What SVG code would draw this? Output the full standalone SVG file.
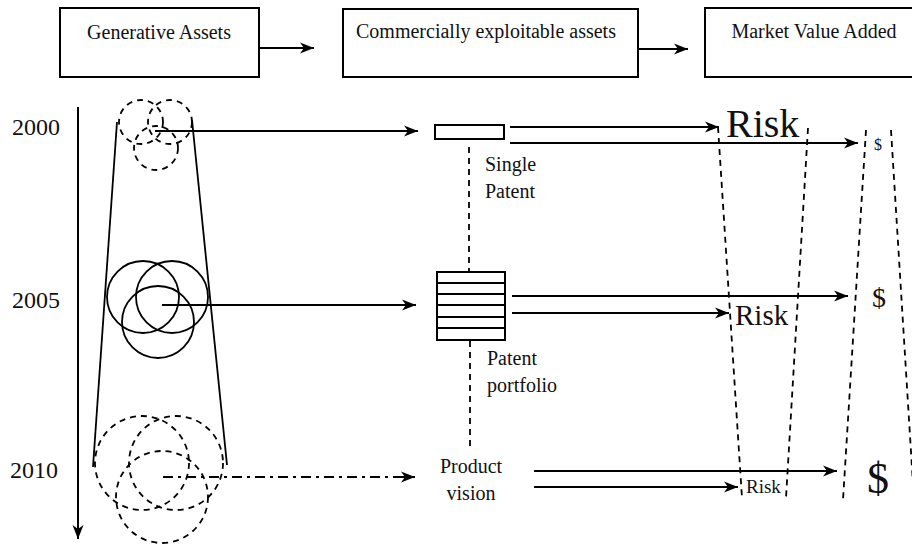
<svg xmlns="http://www.w3.org/2000/svg" width="912" height="544" viewBox="0 0 912 544" font-family="Liberation Serif, DejaVu Serif, serif">
  <defs>
    <marker id="head" markerUnits="userSpaceOnUse" markerWidth="16" markerHeight="12" refX="14" refY="6" orient="auto">
      <path d="M0,0.5 L14,6 L0,11.5 L4,6 Z" fill="#000"/>
    </marker>
    <style>
      text { fill: #111; }
      .box { fill: #fff; stroke: #000; stroke-width: 2; }
      .ln { fill: none; stroke: #000; stroke-width: 2; }
      .thin { fill: none; stroke: #000; stroke-width: 1.8; }
      .dash { fill: none; stroke: #000; stroke-width: 1.8; stroke-dasharray: 6 5; }
      .dashdot { fill: none; stroke: #000; stroke-width: 1.8; stroke-dasharray: 10 5 3 5; }
      .arrow { marker-end: url(#head); }
      .hdr { font-size: 20px; text-anchor: middle; }
      .year { font-size: 24px; }
      .lbl { font-size: 20px; }
    </style>
  </defs>

  <!-- header stages -->
  <g id="generative-assets">
    <rect class="box" x="60" y="8" width="199" height="69"/>
    <text class="hdr" x="159" y="39">Generative Assets</text>
  </g>
  <g id="commercial-assets">
    <rect class="box" x="343" y="9" width="295" height="68"/>
    <text class="hdr" x="486" y="38">Commercially exploitable assets</text>
  </g>
  <g id="market-value">
    <rect class="box" x="705" y="8" width="215" height="69"/>
    <text class="hdr" x="814" y="38">Market Value Added</text>
  </g>

  <!-- time axis and years -->
  <g id="timeline">
    <line class="ln arrow" x1="78" y1="107" x2="78" y2="539"/>
    <text class="year" x="12" y="135">2000</text>
    <text class="year" x="12" y="308">2005</text>
    <text class="year" x="10" y="478">2010</text>
  </g>

  <!-- asset clusters within the widening funnel -->
  <g id="asset-funnel">
    <line class="thin" x1="117" y1="122" x2="93" y2="467"/>
    <line class="thin" x1="192" y1="120" x2="227" y2="465"/>
  </g>
  <g id="assets-2000">
    <circle class="dash" cx="141" cy="122" r="22"/>
    <circle class="dash" cx="170" cy="122" r="22"/>
    <circle class="dash" cx="156" cy="148" r="22"/>
  </g>
  <g id="assets-2005">
    <circle class="thin" cx="143" cy="297" r="36"/>
    <circle class="thin" cx="172" cy="297" r="36"/>
    <circle class="thin" cx="158" cy="322" r="36"/>
  </g>
  <g id="assets-2010">
    <circle class="dash" cx="142" cy="463" r="47"/>
    <circle class="dash" cx="176" cy="463" r="47"/>
    <circle class="dash" cx="162" cy="497" r="46"/>
  </g>

  <!-- exploitable assets -->
  <g id="single-patent">
    <rect class="box" x="435" y="125" width="69" height="14"/>
    <text class="lbl" x="485" y="171">Single</text>
    <text class="lbl" x="485" y="198">Patent</text>
  </g>
  <g id="patent-portfolio">
    <rect class="box" x="437" y="272" width="68" height="68"/>
    <path class="ln" d="M437,283 H505 M437,294 H505 M437,305 H505 M437,317 H505 M437,328 H505"/>
    <text class="lbl" x="487" y="365">Patent</text>
    <text class="lbl" x="487" y="392">portfolio</text>
  </g>
  <g id="product-vision">
    <text class="lbl" x="471" y="473" text-anchor="middle">Product</text>
    <text class="lbl" x="471" y="500" text-anchor="middle">vision</text>
  </g>

  <!-- risk funnel -->
  <g id="risk">
    <line class="dash" x1="718" y1="127" x2="742" y2="498"/>
    <line class="dash" x1="808" y1="128" x2="786" y2="498"/>
    <text x="726" y="137" font-size="40">Risk</text>
    <text x="735" y="325" font-size="29">Risk</text>
    <text x="746" y="493" font-size="19">Risk</text>
  </g>

  <!-- value funnel -->
  <g id="value">
    <line class="dash" x1="866" y1="130" x2="843" y2="500"/>
    <line class="dash" x1="891" y1="130" x2="914" y2="500"/>
    <text x="874" y="150" font-size="16">$</text>
    <text x="872" y="307" font-size="28">$</text>
    <text x="867" y="493" font-size="44">$</text>
  </g>

  <!-- connectors -->
  <g id="connectors">
    <line class="ln arrow" x1="259" y1="48" x2="314" y2="48"/>
    <line class="ln arrow" x1="638" y1="49" x2="688" y2="49"/>

    <line class="ln arrow" x1="155" y1="131" x2="418" y2="131"/>
    <line class="ln arrow" x1="162" y1="305" x2="416" y2="305"/>
    <line class="dashdot" x1="163" y1="477" x2="403" y2="477"/>
    <line class="ln arrow" x1="400" y1="477" x2="415" y2="477"/>

    <line class="dash" x1="469" y1="147" x2="469" y2="271"/>
    <line class="dash" x1="470" y1="341" x2="470" y2="450"/>

    <line class="ln arrow" x1="510" y1="127" x2="719" y2="127"/>
    <line class="ln arrow" x1="510" y1="143" x2="858" y2="143"/>
    <line class="ln arrow" x1="512" y1="296" x2="848" y2="296"/>
    <line class="ln arrow" x1="512" y1="313" x2="729" y2="313"/>
    <line class="ln arrow" x1="534" y1="471" x2="837" y2="471"/>
    <line class="ln arrow" x1="534" y1="487" x2="738" y2="487"/>
  </g>
</svg>
